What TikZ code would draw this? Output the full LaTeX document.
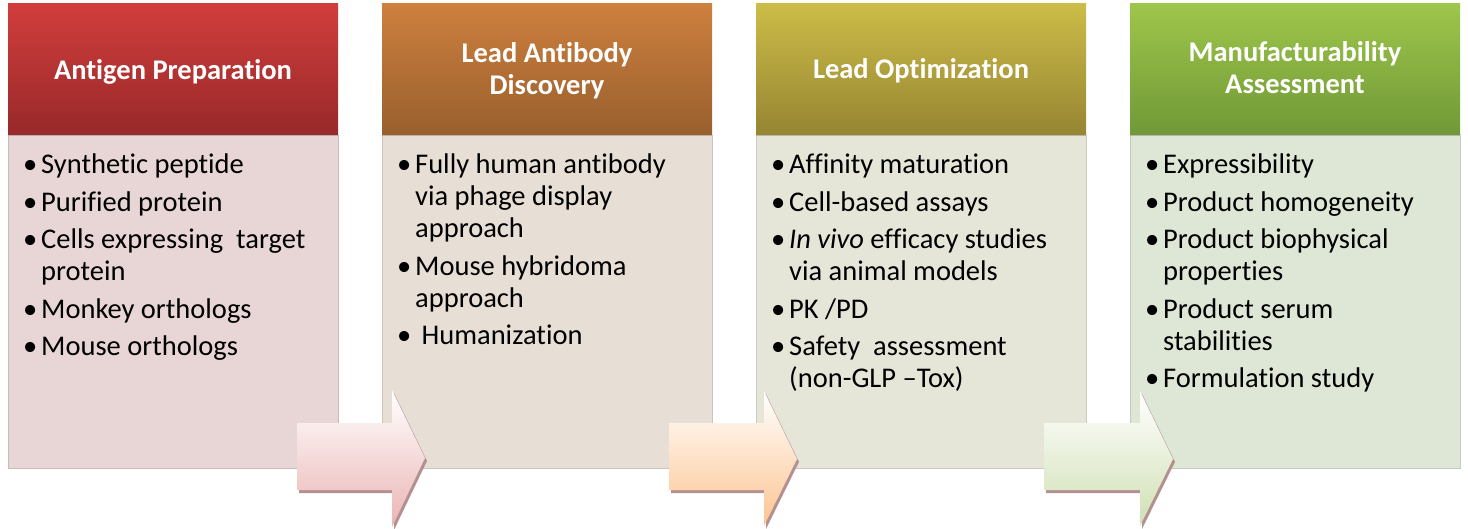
\documentclass[tikz,border=0pt]{standalone}
\usepackage{fontspec}
\setmainfont{Carlito}[Ligatures=NoCommon]
\usetikzlibrary{shadows}
\definecolor{hAtop}{RGB}{209,62,60}
\definecolor{hAbot}{RGB}{152,40,42}
\definecolor{hBtop}{RGB}{206,128,62}
\definecolor{hBbot}{RGB}{152,95,45}
\definecolor{hCtop}{RGB}{204,188,72}
\definecolor{hCbot}{RGB}{150,133,50}
\definecolor{hDtop}{RGB}{158,198,75}
\definecolor{hDbot}{RGB}{112,152,55}
\definecolor{bA}{RGB}{232,213,213}
\definecolor{bB}{RGB}{231,223,214}
\definecolor{bC}{RGB}{229,230,215}
\definecolor{bD}{RGB}{222,231,213}
\definecolor{aA}{RGB}{235,180,180}
\definecolor{aB}{RGB}{252,196,145}
\definecolor{aC}{RGB}{208,224,180}
\definecolor{arrshade}{RGB}{180,145,145}
\newcommand\bitem[1]{\hangindent=18pt\hangafter=1\noindent\makebox[18pt][l]{\textbullet}#1\par}
\newcommand\isp{\vspace{5.5pt}}
\newcommand\nl{\hfil\break}
\begin{document}
\begin{tikzpicture}[x=1pt,y=-1pt,
  bodybox/.style={draw=#1!88!black, line width=0.6pt, fill=#1, minimum width=330pt, minimum height=333pt, inner sep=0pt},
  hdr/.style={minimum width=330pt, minimum height=131pt, inner sep=0pt, draw=none,
     drop shadow={opacity=0.25, shadow xshift=0pt, shadow yshift=-1.5pt}},
  title/.style={anchor=base, inner sep=0pt, text=white, font=\bfseries\fontsize{28.5}{32}\selectfont},
  bodytext/.style={anchor=base west, inner sep=0pt, font=\fontsize{28.5}{32}\selectfont},
  arrshadow/.style={fill=arrshade}
]
\useasboundingbox (0,0) rectangle (1468,529);
\fill[white] (0,0) rectangle (1468,529);

% body boxes
\node[bodybox=bA] (bodyA) at (173,301.5) {};
\node[bodybox=bB] (bodyB) at (547,301.5) {};
\node[bodybox=bC] (bodyC) at (921,301.5) {};
\node[bodybox=bD] (bodyD) at (1295,301.5) {};

% headers
\node[hdr, top color=hAtop, bottom color=hAbot] (headA) at (173,69.5) {};
\node[hdr, top color=hBtop, bottom color=hBbot] (headB) at (547,69.5) {};
\node[hdr, top color=hCtop, bottom color=hCbot] (headC) at (921,69.5) {};
\node[hdr, top color=hDtop, bottom color=hDbot] (headD) at (1295,69.5) {};

% titles
\node[title] (tA) at (173,80) {\parbox[t]{320pt}{\centering Antigen Preparation}};
\node[title] (tB) at (547,63) {\parbox[t]{320pt}{\centering Lead Antibody\\Discovery}};
\node[title] (tC) at (921,79) {\parbox[t]{320pt}{\centering Lead Optimization}};
\node[title] (tD) at (1295,62) {\parbox[t]{320pt}{\centering Manufacturability\\Assessment}};

% body texts
\node[bodytext] (xA) at (23,174) {\parbox[t]{310pt}{\raggedright
  \bitem{Synthetic peptide}\isp
  \bitem{Purified protein}\isp
  \bitem{Cells expressing\ \ target\nl protein}\isp
  \bitem{Monkey orthologs}\isp
  \bitem{Mouse orthologs}}};
\node[bodytext] (xB) at (397,174) {\parbox[t]{310pt}{\raggedright
  \bitem{Fully human antibody\nl via phage display\nl approach}\isp
  \bitem{Mouse hybridoma\nl approach}\isp
  \bitem{\ Humanization}}};
\node[bodytext] (xC) at (771,174) {\parbox[t]{310pt}{\raggedright
  \bitem{Affinity maturation}\isp
  \bitem{Cell-based assays}\isp
  \bitem{\textit{In vivo} efficacy studies\nl via animal models}\isp
  \bitem{PK /PD}\isp
  \bitem{Safety\ \ assessment\nl (non-GLP –Tox)}}};
\node[bodytext] (xD) at (1145,174) {\parbox[t]{310pt}{\raggedright
  \bitem{Expressibility}\isp
  \bitem{Product homogeneity}\isp
  \bitem{Product biophysical\nl properties}\isp
  \bitem{Product serum\nl stabilities}\isp
  \bitem{Formulation study}}};

% arrows
\fill[arrshadow, shift={(2,3)}] (297,423) -- (392,423) -- (392,390) -- (425,458) -- (392,527) -- (392,490) -- (297,490) -- cycle;
\shade[top color=white, bottom color=aA] (297,423) -- (392,423) -- (392,390) -- (425,458) -- (392,527) -- (392,490) -- (297,490) -- cycle;
\fill[arrshadow, shift={(2,3)}] (669,423) -- (764,423) -- (764,391) -- (797,459) -- (764,526) -- (764,490) -- (669,490) -- cycle;
\shade[top color=white, bottom color=aB] (669,423) -- (764,423) -- (764,391) -- (797,459) -- (764,526) -- (764,490) -- (669,490) -- cycle;
\fill[arrshadow, shift={(2,3)}] (1044,423) -- (1140,423) -- (1140,391) -- (1173,459) -- (1140,526) -- (1140,490) -- (1044,490) -- cycle;
\shade[top color=white, bottom color=aC] (1044,423) -- (1140,423) -- (1140,391) -- (1173,459) -- (1140,526) -- (1140,490) -- (1044,490) -- cycle;
\end{tikzpicture}
\end{document}
